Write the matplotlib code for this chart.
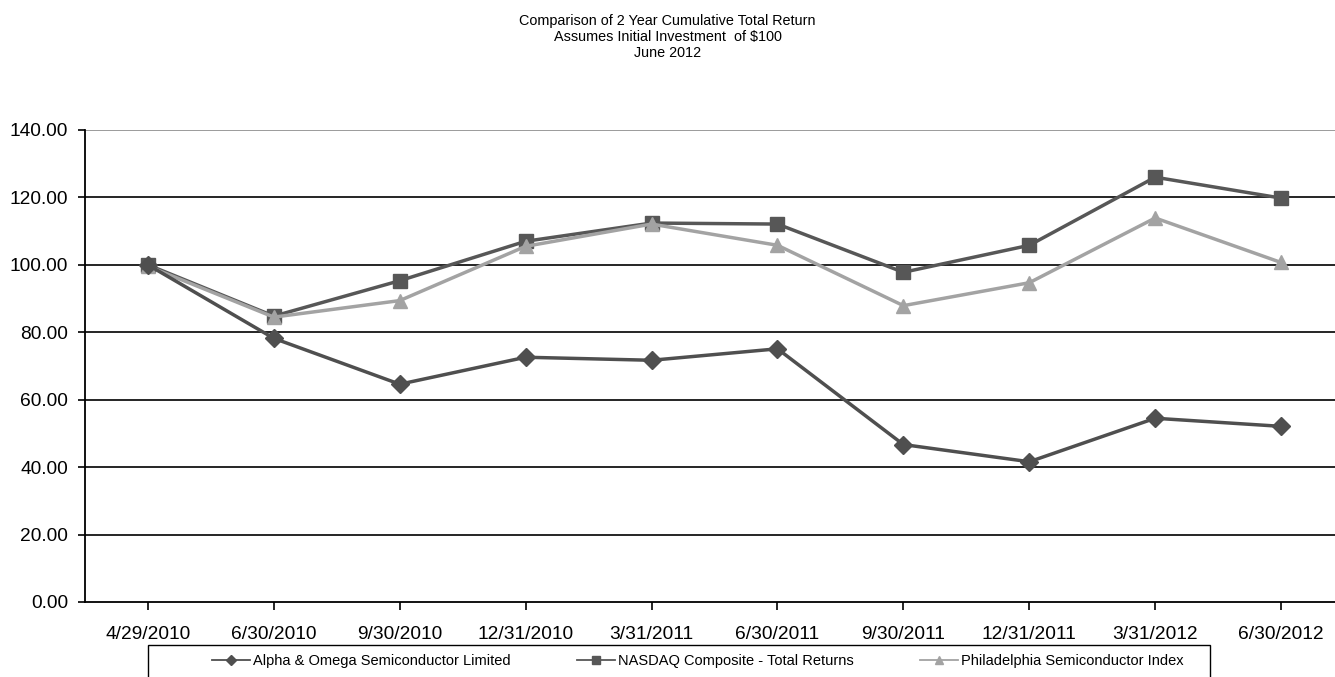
import matplotlib
matplotlib.use("Agg")
import matplotlib.pyplot as plt
from matplotlib.patches import Rectangle
from matplotlib.lines import Line2D

categories = ["4/29/2010", "6/30/2010", "9/30/2010", "12/31/2010", "3/31/2011",
              "6/30/2011", "9/30/2011", "12/31/2011", "3/31/2012", "6/30/2012"]
alpha_omega = [100.0, 78.2, 64.6, 72.6, 71.7, 75.1, 46.7, 41.6, 54.5, 52.1]
nasdaq = [100.0, 84.8, 95.3, 107.0, 112.4, 112.1, 97.8, 105.8, 126.0, 119.8]
sox = [99.6, 84.5, 89.4, 105.5, 112.1, 105.8, 87.9, 94.7, 113.9, 100.7]
series_names = ["Alpha & Omega Semiconductor Limited",
                "NASDAQ Composite - Total Returns",
                "Philadelphia Semiconductor Index"]
yticks = [0, 20, 40, 60, 80, 100, 120, 140]
title_lines = ["Comparison of 2 Year Cumulative Total Return",
               "Assumes Initial Investment  of $100",
               "June 2012"]

plt.rcParams['font.family'] = ['Liberation Sans', 'DejaVu Sans']

W, H = 1335, 677
fig = plt.figure(figsize=(W / 100, H / 100), dpi=100)
ax = fig.add_axes([85 / W, 75 / H, 1250 / W, 472 / H])

colors = ["#4f4f4f", "#575757", "#a3a3a3"]
markers = ["D", "s", "^"]
x = list(range(len(categories)))
ax.plot(x, alpha_omega, color=colors[0], lw=2.5, marker="D", ms=9.5, zorder=4)
ax.plot(x, nasdaq, color=colors[1], lw=2.5, marker="s", ms=10, zorder=3)
ax.plot(x, sox, color=colors[2], lw=2.5, marker="^", ms=10.5, zorder=3.5)

ax.set_ylim(0, 140)
ax.set_xlim(-0.5, (1335 - 148) / 125.9)
ax.set_yticks(yticks)
ax.set_yticklabels([f"{v:.2f}" for v in yticks])
ax.set_xticks(x)
ax.set_xticklabels(categories)
for v in yticks[1:-1]:
    ax.axhline(v, color="black", lw=1.2, zorder=1)
ax.axhline(140, color="#8a8a8a", lw=1.2, zorder=1)

for s in ["top", "right"]:
    ax.spines[s].set_visible(False)
ax.spines["left"].set_linewidth(1.3)
ax.spines["bottom"].set_linewidth(1.3)
ax.tick_params(axis="y", direction="out", length=5, width=1.2, pad=7, labelsize=13.8)
ax.tick_params(axis="x", direction="out", length=6, width=1.2, pad=11, labelsize=13.8)

ys = [21, 37, 53]
for t, yy in zip(title_lines, ys):
    fig.text(0.5, 1 - yy / H, t, ha="center", va="center", fontsize=10.4)

fig.patches.append(Rectangle((148 / W, -0.05), (1210 - 148) / W, 0.05 + 32 / H,
                             transform=fig.transFigure, fill=False, ec="black", lw=1.0))
handles = [Line2D([], [], color=c, lw=1.3, marker=m, ms=5.5) for c, m in zip(colors, markers)]
fig.legend(handles, series_names, loc="center left",
           bbox_to_anchor=(212 / W, 1 - 661 / H), ncol=3, frameon=False,
           fontsize=10.5, handlelength=2.6, columnspacing=4.55,
           handletextpad=0.2, borderaxespad=0, borderpad=0)

fig.savefig("out.png", dpi=100)
